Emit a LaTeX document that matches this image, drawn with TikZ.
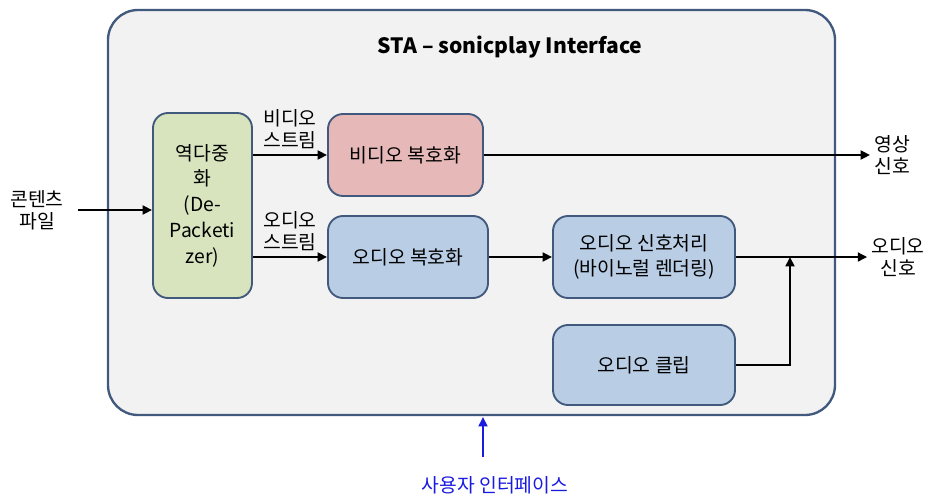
\documentclass[tikz,border=0pt]{standalone}
\usepackage{fontspec}
\setmainfont{Noto Sans CJK KR}
\usepackage{tikz}
\usepackage{xcolor}
\usetikzlibrary{arrows.meta}

\definecolor{frameblue}{HTML}{41597D}
\definecolor{panelgray}{HTML}{F2F2F2}
\definecolor{demuxgreen}{HTML}{D7E4BD}
\definecolor{videored}{HTML}{E6B9B8}
\definecolor{audioblue}{HTML}{B9CDE5}
\definecolor{uiblue}{HTML}{1A1AE0}

\begin{document}
\begin{tikzpicture}[x=0.03cm, y=-0.03cm,
  blk/.style={draw=frameblue, line width=1.6pt, rounded corners=0.45cm, align=center, inner sep=0pt,
    font=\fontsize{16.5}{22}\selectfont},
  lbl/.style={align=center, font=\fontsize{16.5}{19}\selectfont},
  flow/.style={line width=2.4pt, -{Triangle[length=8pt,width=7.5pt]}}]
\useasboundingbox (0,0) rectangle (928,497);
\draw[draw=frameblue, fill=panelgray, line width=2pt, rounded corners=0.9cm] (108,10) rectangle (835,415);
\node[font=\fontsize{18}{20}\selectfont\bfseries] (title) at (510,47) {STA – sonicplay Interface};

\node[blk, fill=demuxgreen, minimum width=2.97cm, minimum height=5.55cm] (demux) at (202.5,205.5) {역다중\\화\\(De-\\Packeti\\zer)};
\node[blk, fill=videored, minimum width=4.65cm, minimum height=2.46cm] (vdec) at (405.5,155) {비디오 복호화};
\node[blk, fill=audioblue, minimum width=4.8cm, minimum height=2.46cm] (adec) at (408,257) {오디오 복호화};
\node[blk, fill=audioblue, minimum width=5.46cm, minimum height=2.46cm] (aproc) at (644,257) {오디오 신호처리\\(바이노럴 렌더링)};
\node[blk, fill=audioblue, minimum width=5.46cm, minimum height=2.4cm] (aclip) at (644,365) {오디오 클립};

\node[lbl] (file) at (37,210) {콘텐츠\\파일};
\node[lbl] (vstr) at (290,129) {비디오\\스트림};
\node[lbl] (astr) at (290,231) {오디오\\스트림};
\node[lbl] (vout) at (892,155) {영상\\신호};
\node[lbl] (aout) at (898,257) {오디오\\신호};
\node[lbl, text=uiblue] (ui) at (495,485) {사용자 인터페이스};
\coordinate (fileend) at (78,210);
\coordinate (join) at (790,257);
\coordinate (uitop) at (483,457);

\draw[flow] (fileend) -- (demux.west |- fileend);
\draw[flow] (demux.east |- vdec) -- (vdec.west);
\draw[flow] (demux.east |- adec) -- (adec.west);
\draw[flow] (vdec.east) -- (vout.west |- vdec.east);
\draw[flow] (adec.east) -- (aproc.west);
\draw[flow] (aproc.east) -- (aout.west |- aproc.east);
\draw[flow] (aclip.east) -| (join);
\draw[line width=2.4pt, draw=uiblue, -{Triangle[length=8pt,width=7.5pt]}] (uitop) -- (uitop |- 0,417);
\end{tikzpicture}
\end{document}
